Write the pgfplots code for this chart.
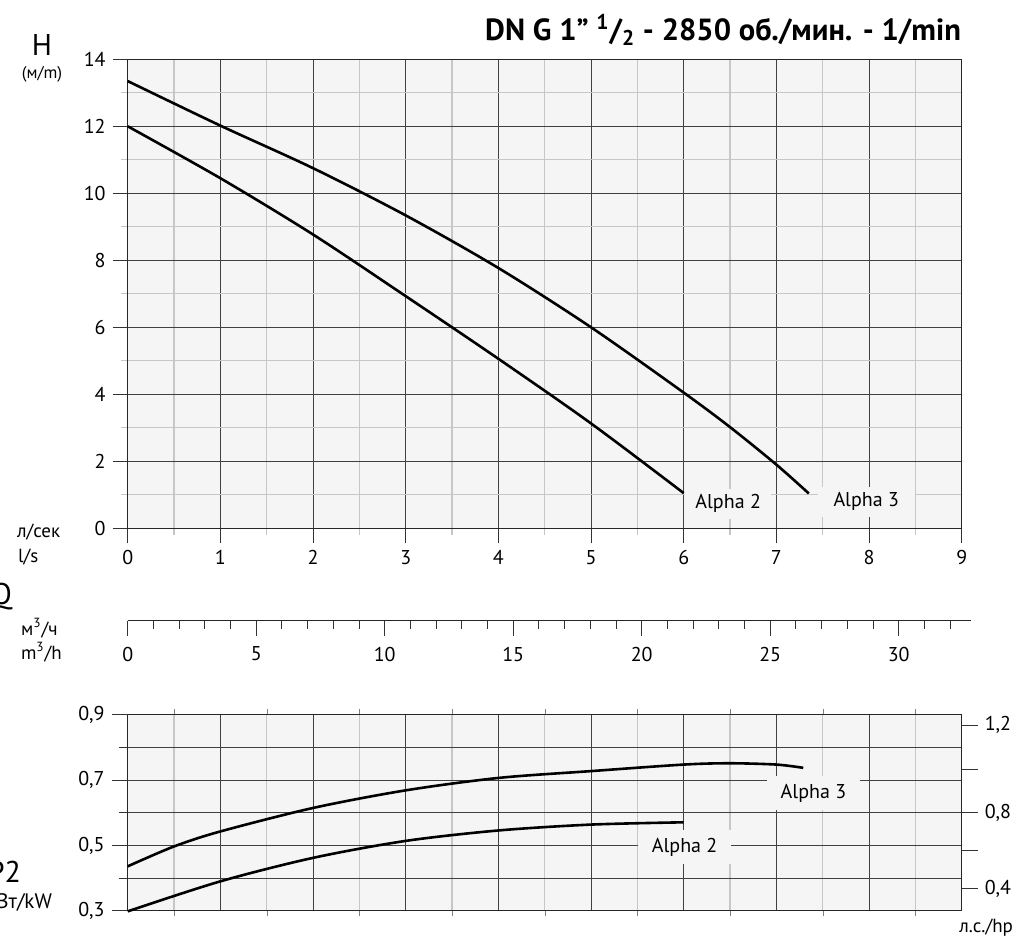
\documentclass[border=0pt]{standalone}
\usepackage{pgfplots}
\pgfplotsset{compat=1.18}
\usepackage{fontspec}
\setmainfont{PT Sans}
\begin{document}
\begin{tikzpicture}[x=0.5pt,y=-0.5pt]
% ---------- top: H (m) vs Q (l/s)
\begin{axis}[
  at={(63.85pt,-264.15pt)}, anchor=south west,
  width=417pt, height=234.5pt, scale only axis,
  xmin=0, xmax=9, ymin=0, ymax=14,
  xtick={0,...,9}, minor xtick={0.5,1.5,...,8.5},
  ytick={0,2,...,14}, minor ytick={1,3,...,13},
  grid=both,
  major grid style={black!75, line width=0.5pt},
  minor grid style={black!22, line width=0.6pt},
  axis line style={black!85, line width=0.5pt},
  tick align=outside, tick pos=left,
  major tick length=7.5pt, minor tick length=3.5pt,
  every major tick/.style={black!80, line width=0.5pt},
  every minor tick/.style={black!22, line width=0.6pt},
  axis background/.style={fill=black!4},
  ticklabel style={font=\fontsize{10}{12}\selectfont},
  /pgf/number format/assume math mode=true,
  clip=false,
]
\node[fill=black!4, inner xsep=5pt, inner ysep=3pt, font=\fontsize{10}{12}\selectfont] at (axis cs:6.48,0.73) {Alpha 2};
\node[fill=black!4, inner xsep=8pt, inner ysep=3pt, font=\fontsize{10}{12}\selectfont] at (axis cs:7.97,0.79) {Alpha 3};
\addplot[black, line width=1.3pt, smooth] coordinates {
 (0,13.35) (1,12.02) (2,10.75) (3,9.34) (4,7.77) (5,6.0) (6,4.05) (6.5,3.02) (7,1.9) (7.35,1.04)};
\addplot[black, line width=1.3pt, smooth] coordinates {
 (0,12.0) (1,10.45) (2,8.77) (3,6.93) (4,5.06) (5,3.13) (6,1.05)};
\end{axis}
% ---------- Q in m3/h
\begin{axis}[
  at={(63.85pt,-310.35pt)}, anchor=south west,
  width=421.5pt, height=10pt, scale only axis,
  xmin=0, xmax=32.8, ymin=0, ymax=1,
  axis x line*=bottom, axis y line=none,
  xtick={0,5,...,30}, minor xtick={1,...,32},
  tick align=outside,
  major tick length=7.5pt, minor tick length=4pt,
  axis line style={black!85, line width=0.5pt},
  every major tick/.style={black!80, line width=0.5pt},
  every minor tick/.style={black!80, line width=0.5pt},
  ticklabel style={font=\fontsize{10}{12}\selectfont},
  xticklabel style={yshift=-2pt},
  /pgf/number format/assume math mode=true,
]
\end{axis}
% ---------- bottom: P2 (kW)
\begin{axis}[
  at={(63.85pt,-455.35pt)}, anchor=south west,
  width=417pt, height=97.85pt, scale only axis,
  xmin=0, xmax=9, ymin=0.3, ymax=0.9,
  xtick={0,...,9}, minor xtick={0.5,1.5,...,8.5},
  xticklabels={}, xmajorticks=false, xminorticks=false,
  ytick={0.3,0.4,0.5,0.6,0.7,0.8,0.9},
  yticklabels={{0,3},{},{0,5},{},{0,7},{},{0,9}},
  extra y ticks={0.3,0.5,0.7,0.9}, extra y tick labels={},
  extra y tick style={major tick length=8pt, grid=none},
  grid=both,
  major grid style={black!75, line width=0.5pt},
  minor grid style={black!22, line width=0.6pt},
  axis line style={black!85, line width=0.5pt},
  tick align=outside, ytick pos=left,
  major tick length=4.5pt,
  every major tick/.style={black!80, line width=0.5pt},
  axis background/.style={fill=black!4},
  ticklabel style={font=\fontsize{10}{12}\selectfont},
  yticklabel style={xshift=-3.5pt},
  clip=false,
]
\node[fill=black!4, inner xsep=7pt, inner ysep=4pt, font=\fontsize{10}{12}\selectfont] at (axis cs:7.40,0.66) {Alpha 3};
\node[fill=black!4, inner xsep=7pt, inner ysep=4pt, font=\fontsize{10}{12}\selectfont] at (axis cs:6.01,0.495) {Alpha 2};
\addplot[black, line width=1.3pt, smooth] coordinates {
 (0,0.436) (0.5,0.497) (1,0.543) (2,0.615) (3,0.669) (4,0.707) (5,0.728) (6,0.748) (6.5,0.752) (7,0.748) (7.29,0.738)};
\addplot[black, line width=1.3pt, smooth] coordinates {
 (0,0.298) (1,0.39) (2,0.462) (3,0.514) (4,0.546) (5,0.564) (6,0.571)};
\end{axis}
% ---------- right hp scale
\begin{axis}[
  at={(63.85pt,-455.35pt)}, anchor=south west,
  width=417pt, height=97.85pt, scale only axis,
  xmin=0, xmax=9, ymin=0.3, ymax=0.9,
  axis x line=none, axis y line*=right,
  ytick={0.367,0.6,0.869}, yticklabels={{0,4},{0,8},{1,2}},
  extra y ticks={0.484,0.734}, extra y tick labels={},
  tick align=outside, major tick length=8pt,
  axis line style={black!85, line width=0.5pt},
  every major tick/.style={black!80, line width=0.5pt},
  ticklabel style={font=\fontsize{10}{12}\selectfont},
]
\end{axis}
% ---------- texts
\node[anchor=east, font=\bfseries\fontsize{15.3}{17}\selectfont] at (968,30) {DN G 1” \textsuperscript{1}/\textsubscript{2} - 2850 об./мин. - 1/min};
\node[font=\fontsize{15}{17}\selectfont] at (42,45) {H};
\node[font=\fontsize{8.5}{10}\selectfont] at (42,74) {(м/m)};
\node[anchor=west, font=\fontsize{9.5}{11}\selectfont] at (10,532) {л/сек};
\node[anchor=west, font=\fontsize{9.5}{11}\selectfont] at (11,557) {l/s};
\node[anchor=east, font=\fontsize{15}{17}\selectfont] at (19,597) {Q};
\node[anchor=west, font=\fontsize{9.5}{11}\selectfont] at (14,628) {м\textsuperscript{3}/ч};
\node[anchor=west, font=\fontsize{9.5}{11}\selectfont] at (14,652) {m\textsuperscript{3}/h};
\node[anchor=east, font=\fontsize{15}{17}\selectfont] at (28,872) {P2};
\node[anchor=east, font=\fontsize{10.5}{12}\selectfont] at (59,902) {кВт/kW};
\node[anchor=east, font=\fontsize{9.5}{11}\selectfont] at (1020,928) {л.с./hp};
\pgfresetboundingbox
\useasboundingbox (0,0) rectangle (1023,940);
\end{tikzpicture}
\end{document}
